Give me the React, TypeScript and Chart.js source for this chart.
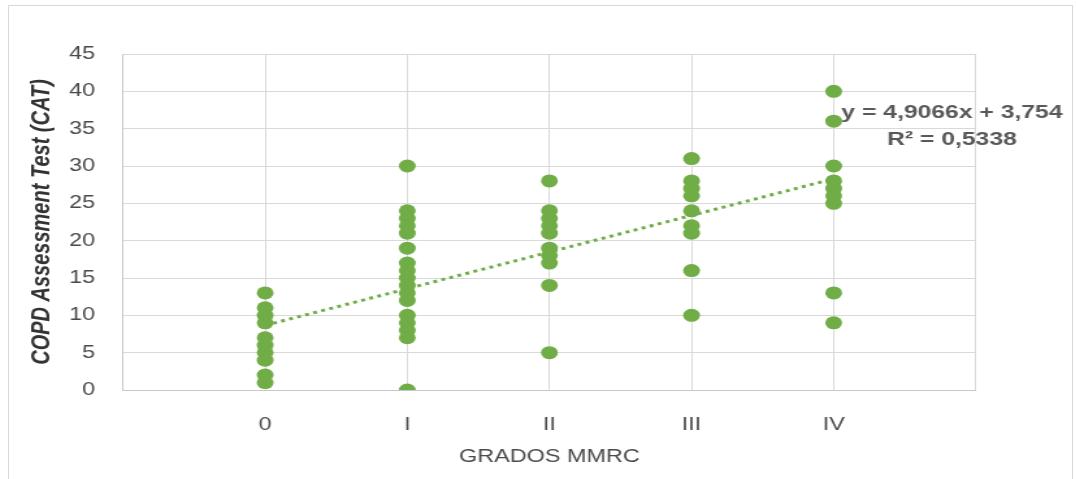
import React, { useEffect, useRef } from "react";
import { Chart, registerables } from "chart.js";

Chart.register(...registerables);

// Data
const categories = ["0", "I", "II", "III", "IV"];
const grade0 = [13, 11, 10, 9, 7, 6, 5, 4, 2, 1];
const gradeI = [30, 24, 23, 22, 21, 19, 17, 16, 15, 14, 13, 12, 10, 9, 8, 7, 0];
const gradeII = [28, 24, 23, 22, 21, 19, 18, 17, 14, 5];
const gradeIII = [31, 28, 27, 26, 24, 22, 21, 16, 10];
const gradeIV = [40, 36, 30, 28, 27, 26, 25, 13, 9];
const trendX = [1, 5];
const trendY = [8.66, 28.29];
const equationText = "y = 4,9066x + 3,754";
const r2Text = "R² = 0,5338";
const yTicks = [0, 5, 10, 15, 20, 25, 30, 35, 40, 45];
const xTickLabels = ["", ...categories, ""];

const GREEN = "#70AD47";
const FONT = "'Liberation Sans', Arial, sans-serif";
const CANVAS_W = 817;
const CANVAS_H = 478;
const STRETCH = 1062 / CANVAS_W;

export default function App() {
  const ref = useRef<HTMLCanvasElement | null>(null);

  useEffect(() => {
    if (!ref.current) return;
    const groups = [grade0, gradeI, gradeII, gradeIII, gradeIV];
    const points: { x: number; y: number }[] = [];
    groups.forEach((g, i) => g.forEach((v) => points.push({ x: i + 1, y: v })));
    const trend = trendX.map((x, i) => ({ x, y: trendY[i] }));

    const labelPlugin = {
      id: "eqLabel",
      afterDraw(chart: any) {
        const { ctx, chartArea } = chart;
        ctx.save();
        ctx.font = `bold 19px ${FONT}`;
        ctx.fillStyle = "#595959";
        ctx.textAlign = "center";
        ctx.textBaseline = "middle";
        const x = chartArea.right - 18.4;
        ctx.fillText(equationText, x, chartArea.top + 59);
        ctx.fillText(r2Text, x, chartArea.top + 86);
        ctx.restore();
      },
    };

    const chart = new Chart(ref.current, {
      type: "scatter",
      data: {
        datasets: [
          {
            type: "line",
            data: trend,
            borderColor: GREEN,
            borderWidth: 3,
            borderDash: [3, 3.5],
            pointRadius: 0,
            fill: false,
            order: 0,
          } as any,
          {
            type: "scatter",
            data: points,
            backgroundColor: GREEN,
            borderColor: GREEN,
            borderWidth: 0,
            pointRadius: 6.5,
            order: 1,
          },
        ],
      },
      options: {
        animation: false,
        responsive: false,
        devicePixelRatio: 1,
        layout: { padding: { top: 48, right: 73.2, left: 0, bottom: 0 } },
        plugins: { legend: { display: false }, tooltip: { enabled: false } },
        scales: {
          x: {
            type: "linear",
            min: 0,
            max: 6,
            afterFit: (s: any) => {
              s.height = 94;
            },
            ticks: {
              stepSize: 1,
              padding: 24,
              color: "#4a4a4a",
              font: { family: FONT, size: 18 },
              callback: (v: any) => xTickLabels[Number(v)] ?? "",
            },
            grid: { color: "#d9d9d9", drawTicks: false },
            border: { color: "#c8c8c8" },
            title: {
              display: true,
              text: "GRADOS MMRC",
              color: "#4a4a4a",
              font: { family: FONT, size: 18 },
              padding: { top: 0, bottom: 16 },
            },
          },
          y: {
            min: 0,
            max: 45,
            afterFit: (s: any) => {
              s.width = 87.7;
            },
            afterBuildTicks: (s: any) => {
              s.ticks = yTicks.map((v) => ({ value: v }));
            },
            ticks: {
              padding: 21.5,
              color: "#4a4a4a",
              font: { family: FONT, size: 18 },
            },
            grid: { color: "#d9d9d9", drawTicks: false },
            border: { color: "#c8c8c8" },
            title: {
              display: true,
              text: "COPD Assessment Test (CAT)",
              color: "#333333",
              font: { family: FONT, size: 20, weight: "bold", style: "italic" },
              padding: { top: 13.4, bottom: 0 },
            },
          },
        },
      },
      plugins: [labelPlugin],
    });
    return () => chart.destroy();
  }, []);

  return (
    <div
      style={{
        position: "absolute",
        left: 8,
        top: 5,
        width: 1065,
        height: 480,
        border: "1px solid #d9d9d9",
        boxSizing: "border-box",
        overflow: "hidden",
        background: "#fff",
      }}
    >
      <canvas
        ref={ref}
        width={CANVAS_W}
        height={CANVAS_H}
        style={{
          position: "absolute",
          left: 0,
          top: 0,
          width: CANVAS_W,
          height: CANVAS_H,
          transform: `scaleX(${STRETCH})`,
          transformOrigin: "0 0",
        }}
      />
    </div>
  );
}
